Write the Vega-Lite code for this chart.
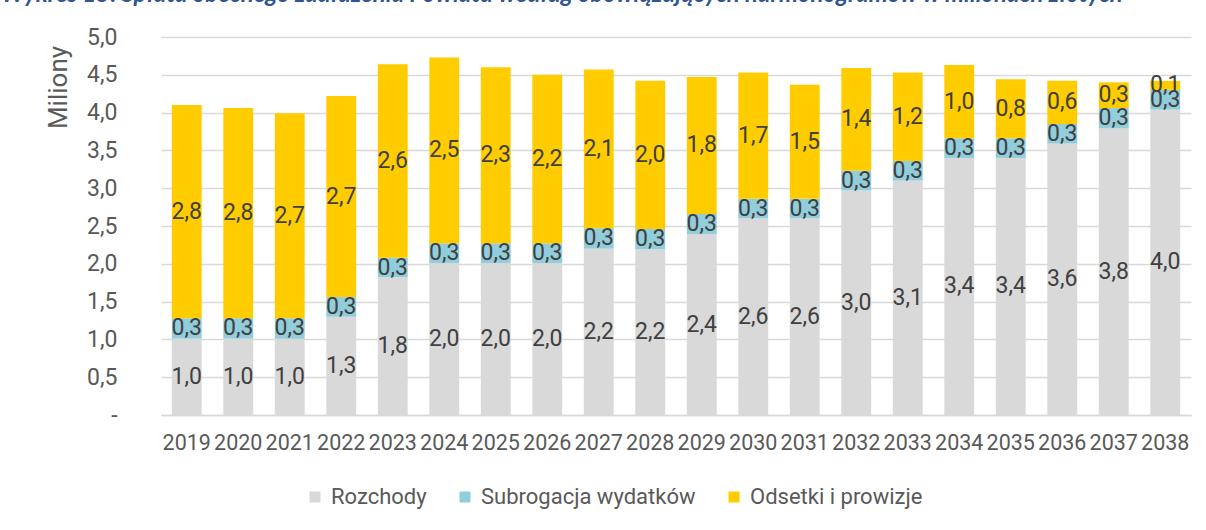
{
  "$schema": "https://vega.github.io/schema/vega-lite/v6.json",
  "autosize": "none",
  "width": 1030,
  "height": 378,
  "padding": {"left": 161, "top": 37, "right": 15, "bottom": 115},
  "background": "white",
  "title": {
    "text": "Wykres 15. Spłata obecnego zadłużenia Powiatu według obowiązujących harmonogramów w milionach złotych",
    "anchor": "start",
    "frame": "group",
    "offset": 0,
    "baseline": "alphabetic",
    "dx": -160,
    "font": "Lato",
    "fontSize": 24,
    "fontStyle": "italic",
    "fontWeight": "bold",
    "color": "#2F5597"
  },
  "config": {
    "font": "Roboto",
    "view": {"stroke": null},
    "locale": {"number": {"decimal": ",", "thousands": " ", "grouping": [3], "currency": ["", " zł"]}}
  },
  "data": {
    "values": [
      {"year": "2019", "series": "Rozchody", "k": 1, "value": 1.01},
      {"year": "2019", "series": "Subrogacja wydatków", "k": 2, "value": 0.27},
      {"year": "2019", "series": "Odsetki i prowizje", "k": 3, "value": 2.82},
      {"year": "2020", "series": "Rozchody", "k": 1, "value": 1.01},
      {"year": "2020", "series": "Subrogacja wydatków", "k": 2, "value": 0.27},
      {"year": "2020", "series": "Odsetki i prowizje", "k": 3, "value": 2.78},
      {"year": "2021", "series": "Rozchody", "k": 1, "value": 1.01},
      {"year": "2021", "series": "Subrogacja wydatków", "k": 2, "value": 0.27},
      {"year": "2021", "series": "Odsetki i prowizje", "k": 3, "value": 2.71},
      {"year": "2022", "series": "Rozchody", "k": 1, "value": 1.30},
      {"year": "2022", "series": "Subrogacja wydatków", "k": 2, "value": 0.26},
      {"year": "2022", "series": "Odsetki i prowizje", "k": 3, "value": 2.66},
      {"year": "2023", "series": "Rozchody", "k": 1, "value": 1.82},
      {"year": "2023", "series": "Subrogacja wydatków", "k": 2, "value": 0.26},
      {"year": "2023", "series": "Odsetki i prowizje", "k": 3, "value": 2.56},
      {"year": "2024", "series": "Rozchody", "k": 1, "value": 2.01},
      {"year": "2024", "series": "Subrogacja wydatków", "k": 2, "value": 0.26},
      {"year": "2024", "series": "Odsetki i prowizje", "k": 3, "value": 2.46},
      {"year": "2025", "series": "Rozchody", "k": 1, "value": 2.01},
      {"year": "2025", "series": "Subrogacja wydatków", "k": 2, "value": 0.26},
      {"year": "2025", "series": "Odsetki i prowizje", "k": 3, "value": 2.33},
      {"year": "2026", "series": "Rozchody", "k": 1, "value": 2.01},
      {"year": "2026", "series": "Subrogacja wydatków", "k": 2, "value": 0.26},
      {"year": "2026", "series": "Odsetki i prowizje", "k": 3, "value": 2.23},
      {"year": "2027", "series": "Rozchody", "k": 1, "value": 2.20},
      {"year": "2027", "series": "Subrogacja wydatków", "k": 2, "value": 0.27},
      {"year": "2027", "series": "Odsetki i prowizje", "k": 3, "value": 2.10},
      {"year": "2028", "series": "Rozchody", "k": 1, "value": 2.19},
      {"year": "2028", "series": "Subrogacja wydatków", "k": 2, "value": 0.27},
      {"year": "2028", "series": "Odsetki i prowizje", "k": 3, "value": 1.96},
      {"year": "2029", "series": "Rozchody", "k": 1, "value": 2.39},
      {"year": "2029", "series": "Subrogacja wydatków", "k": 2, "value": 0.27},
      {"year": "2029", "series": "Odsetki i prowizje", "k": 3, "value": 1.81},
      {"year": "2030", "series": "Rozchody", "k": 1, "value": 2.60},
      {"year": "2030", "series": "Subrogacja wydatków", "k": 2, "value": 0.26},
      {"year": "2030", "series": "Odsetki i prowizje", "k": 3, "value": 1.67},
      {"year": "2031", "series": "Rozchody", "k": 1, "value": 2.60},
      {"year": "2031", "series": "Subrogacja wydatków", "k": 2, "value": 0.26},
      {"year": "2031", "series": "Odsetki i prowizje", "k": 3, "value": 1.51},
      {"year": "2032", "series": "Rozchody", "k": 1, "value": 2.97},
      {"year": "2032", "series": "Subrogacja wydatków", "k": 2, "value": 0.26},
      {"year": "2032", "series": "Odsetki i prowizje", "k": 3, "value": 1.36},
      {"year": "2033", "series": "Rozchody", "k": 1, "value": 3.10},
      {"year": "2033", "series": "Subrogacja wydatków", "k": 2, "value": 0.26},
      {"year": "2033", "series": "Odsetki i prowizje", "k": 3, "value": 1.17},
      {"year": "2034", "series": "Rozchody", "k": 1, "value": 3.40},
      {"year": "2034", "series": "Subrogacja wydatków", "k": 2, "value": 0.26},
      {"year": "2034", "series": "Odsetki i prowizje", "k": 3, "value": 0.97},
      {"year": "2035", "series": "Rozchody", "k": 1, "value": 3.40},
      {"year": "2035", "series": "Subrogacja wydatków", "k": 2, "value": 0.26},
      {"year": "2035", "series": "Odsetki i prowizje", "k": 3, "value": 0.78},
      {"year": "2036", "series": "Rozchody", "k": 1, "value": 3.59},
      {"year": "2036", "series": "Subrogacja wydatków", "k": 2, "value": 0.26},
      {"year": "2036", "series": "Odsetki i prowizje", "k": 3, "value": 0.57},
      {"year": "2037", "series": "Rozchody", "k": 1, "value": 3.79},
      {"year": "2037", "series": "Subrogacja wydatków", "k": 2, "value": 0.27},
      {"year": "2037", "series": "Odsetki i prowizje", "k": 3, "value": 0.34},
      {"year": "2038", "series": "Rozchody", "k": 1, "value": 4.04},
      {"year": "2038", "series": "Subrogacja wydatków", "k": 2, "value": 0.26},
      {"year": "2038", "series": "Odsetki i prowizje", "k": 3, "value": 0.12}
    ]
  },
  "transform": [
    {"stack": "value", "groupby": ["year"], "sort": [{"field": "k", "order": "ascending"}], "as": ["v0", "v1"]}
  ],
  "encoding": {
    "x": {
      "field": "year",
      "type": "nominal",
      "sort": null,
      "title": null,
      "scale": {"paddingInner": 0.42, "paddingOuter": 0.21},
      "axis": {
        "labelAngle": 0,
        "labelFontSize": 21.5,
        "labelColor": "#595959",
        "labelPadding": 17,
        "labelOverlap": false,
        "ticks": false,
        "domainColor": "#D9D9D9",
        "domainWidth": 1.5,
        "labelFont": "Roboto"
      }
    }
  },
  "layer": [
    {
      "mark": {"type": "bar"},
      "encoding": {
        "y": {
          "field": "v0",
          "type": "quantitative",
          "scale": {"domain": [0, 5], "nice": false},
          "title": "Miliony",
          "axis": {
            "values": [0, 0.5, 1, 1.5, 2, 2.5, 3, 3.5, 4, 4.5, 5],
            "labelExpr": "datum.value == 0 ? '-\u00a0\u00a0' : replace(format(datum.value, '.1f'), '.', ',')",
            "labelOverlap": false,
            "labelFontSize": 23,
            "labelColor": "#595959",
            "labelPadding": 44,
            "ticks": false,
            "domain": false,
            "gridColor": "#D9D9D9",
            "gridWidth": 1.5,
            "titleFontSize": 26,
            "titleFontWeight": "normal",
            "titleColor": "#595959",
            "titleX": -103,
            "titleY": 50,
            "titleAlign": "center",
            "titleBaseline": "middle",
            "titleAngle": -90
          }
        },
        "y2": {"field": "v1"},
        "color": {
          "field": "series",
          "type": "nominal",
          "scale": {
            "domain": ["Rozchody", "Subrogacja wydatków", "Odsetki i prowizje"],
            "range": ["#D9D9D9", "#92CDDC", "#FFCC00"]
          },
          "legend": {
            "title": null,
            "orient": "none",
            "direction": "horizontal",
            "legendX": 143,
            "legendY": 449,
            "symbolType": "square",
            "symbolSize": 121,
            "symbolStrokeWidth": 0,
            "labelFontSize": 22,
            "labelColor": "#595959",
            "labelOffset": 5,
            "labelLimit": 400,
            "columnPadding": 27,
            "padding": 0,
            "labelFont": "Roboto"
          }
        }
      }
    },
    {
      "transform": [
        {"fold": ["v0", "v1"], "as": ["edge", "pos"]},
        {"aggregate": [{"op": "mean", "field": "pos", "as": "mid"}], "groupby": ["year", "series", "value", "k"]}
      ],
      "mark": {"type": "text", "fontSize": 23, "color": "#404040", "baseline": "middle", "font": "Roboto"},
      "encoding": {
        "y": {
          "field": "mid",
          "type": "quantitative",
          "title": "Miliony",
          "axis": {
            "values": [0, 0.5, 1, 1.5, 2, 2.5, 3, 3.5, 4, 4.5, 5],
            "labelExpr": "datum.value == 0 ? '-\u00a0\u00a0' : replace(format(datum.value, '.1f'), '.', ',')",
            "labelOverlap": false,
            "labelFontSize": 23,
            "labelColor": "#595959",
            "labelPadding": 44,
            "ticks": false,
            "domain": false,
            "gridColor": "#D9D9D9",
            "gridWidth": 1.5,
            "titleFontSize": 26,
            "titleFontWeight": "normal",
            "titleColor": "#595959",
            "titleX": -103,
            "titleY": 50,
            "titleAlign": "center",
            "titleBaseline": "middle",
            "titleAngle": -90
          }
        },
        "text": {"field": "value", "type": "quantitative", "format": ".1f"}
      }
    }
  ]
}
